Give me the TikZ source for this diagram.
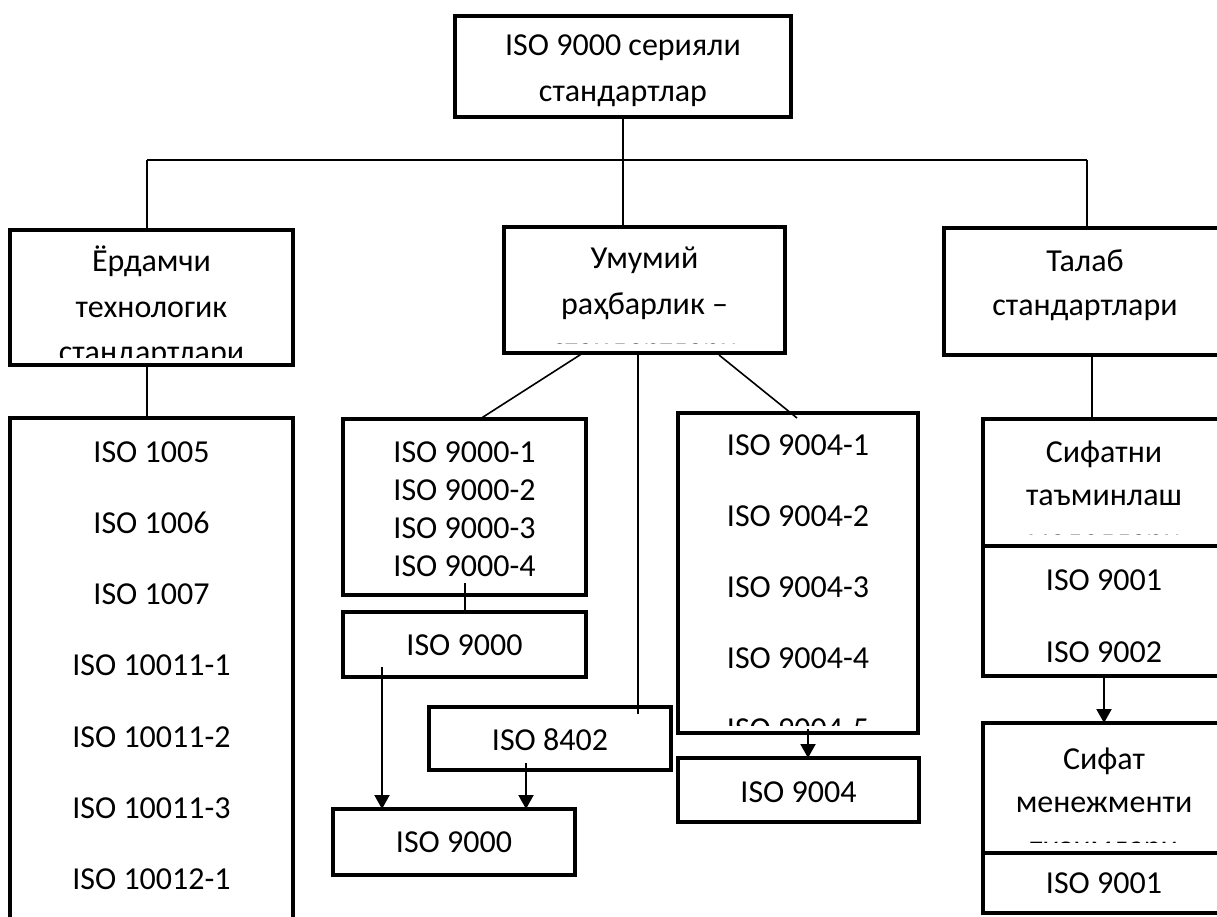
\documentclass[tikz,border=0pt]{standalone}
\usepackage{fontspec}
\setmainfont{Carlito}
\usetikzlibrary{arrows.meta}
\tikzset{
  frame/.style={draw, line width=4pt, inner sep=0pt, outer sep=0pt},
  link/.style={line width=1.6pt},
  feed/.style={line width=2pt, -{Triangle[length=14pt,width=15pt]}},
  lbl/.style={anchor=base, inner sep=0pt, font=\fontsize{32}{38}\selectfont},
}
\begin{document}
\begin{tikzpicture}[x=1pt,y=-1pt]
\useasboundingbox (0,0) rectangle (1217,917);
\clip (0,0) rectangle (1217,917);

% ---------- boxes ----------
\node[frame, minimum width=336, minimum height=101] (top)    at (623,66.5)   {};
\node[frame, minimum width=283, minimum height=135] (lbox)   at (151.5,297.5) {};
\node[frame, minimum width=281, minimum height=126] (mbox)   at (644.5,290)  {};
\node[frame, minimum width=282, minimum height=127] (rbox)   at (1085,291.5) {};
\node[frame, minimum width=283, minimum height=542] (llist)  at (151.5,689)  {};
\node[frame, minimum width=243, minimum height=176] (s1list) at (464.5,507)  {};
\node[frame, minimum width=243, minimum height=65]  (s1)     at (464.5,644.5) {};
\node[frame, minimum width=242, minimum height=63]  (s8402)  at (550,738.5)  {};
\node[frame, minimum width=242, minimum height=66]  (s1b)    at (454,842)    {};
\node[frame, minimum width=240, minimum height=320] (s4list) at (798,573)    {};
\node[frame, minimum width=241, minimum height=64]  (s4)     at (798.5,790)  {};
\node[frame, minimum width=242, minimum height=127] (qa)     at (1104,482.5) {};
\node[frame, minimum width=242, minimum height=130] (qalist) at (1104,611)   {};
\node[frame, minimum width=242, minimum height=130] (qm)     at (1104,788)   {};
\node[frame, minimum width=242, minimum height=60]  (qmlist) at (1104,883)   {};

% ---------- texts ----------
\node[lbl] (tTa) at (623,56)  {ISO 9000 серияли};
\node[lbl] (tTb) at (623,102) {стандартлар};

\begin{scope}
  \clip (14,234) rectangle (289,357);
  \node[lbl] (tLa) at (151.5,272) {Ёрдамчи};
  \node[lbl] (tLb) at (151.5,317) {технологик};
  \node[lbl] (tLc) at (151.5,362) {стандартлари};
\end{scope}

\begin{scope}
  \clip (508,231) rectangle (781,343.5);
  \node[lbl] (tMa) at (644.5,269) {Умумий};
  \node[lbl] (tMb) at (644.5,314) {раҳбарлик –};
  \node[lbl] (tMc) at (644.5,359) {стандартлари};
\end{scope}

\node[lbl] (tRa) at (1085,271) {Талаб};
\node[lbl] (tRb) at (1085,315) {стандартлари};

\foreach \t [count=\i] in {ISO 1005, ISO 1006, ISO 1007, ISO 10011-1, ISO 10011-2, ISO 10011-3, ISO 10012-1}
  \node[lbl] (tl\i) at (151.5,{462+71.3*(\i-1)}) {\t};

\foreach \t [count=\i] in {ISO 9000-1, ISO 9000-2, ISO 9000-3, ISO 9000-4}
  \node[lbl] (ts\i) at (464.5,{462+38.3*(\i-1)}) {\t};

\node[lbl] (tS1)  at (464.5,655) {ISO 9000};
\node[lbl] (tS84) at (550,750)   {ISO 8402};
\node[lbl] (tS1b) at (454,852)   {ISO 9000};

\begin{scope}
  \clip (682,417) rectangle (914,725);
  \foreach \t [count=\i] in {ISO 9004-1, ISO 9004-2, ISO 9004-3, ISO 9004-4, ISO 9004-5}
    \node[lbl] (tf\i) at (798,{455+71.2*(\i-1)}) {\t};
\end{scope}
\node[lbl] (tS4) at (798.5,802) {ISO 9004};

\begin{scope}
  \clip (987,423) rectangle (1221,534.5);
  \node[lbl] (tQa) at (1104,462) {Сифатни};
  \node[lbl] (tQb) at (1104,505) {таъминлаш};
  \node[lbl] (tQc) at (1104,550) {моделлари};
\end{scope}
\node[lbl] (tQ1) at (1104,590) {ISO 9001};
\node[lbl] (tQ2) at (1104,662) {ISO 9002};

\begin{scope}
  \clip (987,727) rectangle (1221,842);
  \node[lbl] (tNa) at (1104,769) {Сифат};
  \node[lbl] (tNb) at (1104,812) {менежменти};
  \node[lbl] (tNc) at (1104,857) {тизимлари};
\end{scope}
\node[lbl] (tN1) at (1104,893) {ISO 9001};

% ---------- connectors ----------
\coordinate (busL) at (147,160);
\coordinate (busR) at (1087,160);
\draw[link] (top.south) -- (top.south |- mbox.north);
\draw[link] (busL) -- (busR);
\draw[link] (busL) -- (busL |- lbox.north);
\draw[link] (busR) -- (busR |- rbox.north);

\coordinate (l1) at (147,365);
\draw[link] (l1) -- (l1 |- llist.north);

\coordinate (m1) at (583,353);
\coordinate (m1e) at (480,419);
\draw[link] (m1) -- (m1e);
\coordinate (m2) at (638,353);
\coordinate (m2e) at (638,714);
\draw[link] (m2) -- (m2e);
\coordinate (m3) at (719,355);
\coordinate (m3e) at (797,418);
\draw[link] (m3) -- (m3e);

\coordinate (c1) at (465,583);
\draw[link] (c1) -- (c1 |- s1.north);

\coordinate (a1) at (382,667);
\draw[feed] (a1) -- (a1 |- s1b.north);
\coordinate (a2) at (526,763);
\draw[feed] (a2) -- (a2 |- s1b.north);
\coordinate (a4) at (808,729);
\draw[feed] (a4) -- (a4 |- s4.north);

\coordinate (r1) at (1092,355);
\draw[link] (r1) -- (r1 |- qa.north);
\coordinate (a5) at (1104,676);
\draw[feed] (a5) -- (a5 |- qm.north);
\end{tikzpicture}
\end{document}
